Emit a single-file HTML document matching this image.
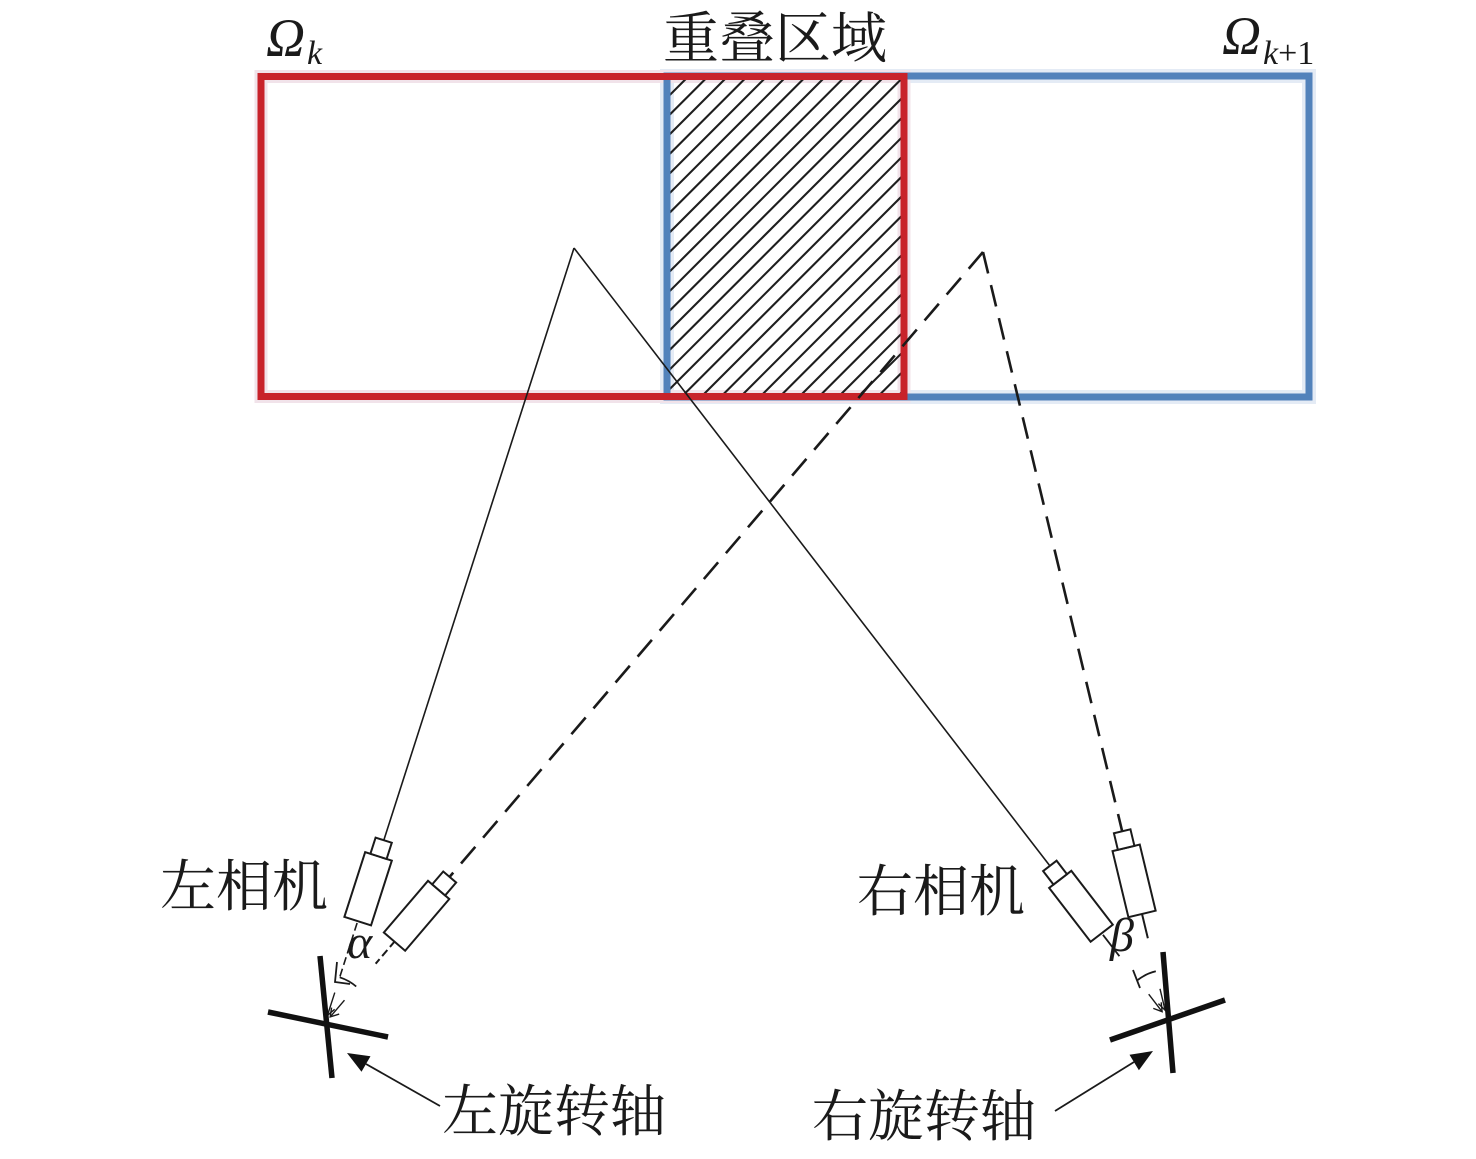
<!DOCTYPE html>
<html>
<head>
<meta charset="utf-8">
<style>
  html, body { margin: 0; padding: 0; background: #ffffff; }
  svg { display: block; }
  .cjk { font-family: "Liberation Serif", "Noto Serif CJK SC", serif; font-size: 56px; fill: #1a1a1a; }
  .greek { font-family: "Liberation Serif", serif; font-style: italic; fill: #1a1a1a; }
</style>
</head>
<body>
<svg width="1476" height="1159" viewBox="0 0 1476 1159" xmlns="http://www.w3.org/2000/svg">
  <rect x="0" y="0" width="1476" height="1159" fill="#ffffff"/>

  <defs>
    <clipPath id="hatchClip">
      <rect x="670.5" y="79.5" width="230.5" height="314"/>
    </clipPath>
  </defs>

  <!-- soft glow under frames -->
  <rect x="667" y="76" width="642" height="321" fill="none" stroke="#e4ebf5" stroke-width="14"/>
  <rect x="261" y="76.5" width="643" height="320" fill="none" stroke="#f1e3ea" stroke-width="13"/>

  <!-- blue rectangle (Omega k+1) -->
  <rect x="667" y="76" width="642" height="321" fill="none" stroke="#5282bb" stroke-width="7"/>

  <!-- hatch in overlap -->
  <g clip-path="url(#hatchClip)">
    <path fill="none" stroke="#1e1e1e" stroke-width="2.1" d="
      M345.2 400 L675.2 70 M364.8 400 L694.8 70 M384.4 400 L714.4 70 M404 400 L734 70
      M423.6 400 L753.6 70 M443.2 400 L773.2 70 M462.8 400 L792.8 70 M482.4 400 L812.4 70
      M502 400 L832 70 M521.6 400 L851.6 70 M541.2 400 L871.2 70 M560.8 400 L890.8 70
      M580.4 400 L910.4 70 M600 400 L930 70 M619.6 400 L949.6 70 M639.2 400 L969.2 70
      M658.8 400 L988.8 70 M678.4 400 L1008.4 70 M698 400 L1028 70 M717.6 400 L1047.6 70
      M737.2 400 L1067.2 70 M756.8 400 L1086.8 70 M776.4 400 L1106.4 70 M796 400 L1126 70
      M815.6 400 L1145.6 70 M835.2 400 L1165.2 70 M854.8 400 L1184.8 70 M874.4 400 L1204.4 70
      M894 400 L1224 70"/>
  </g>

  <!-- red rectangle (Omega k) -->
  <rect x="261" y="76.5" width="643" height="320" fill="none" stroke="#c8232b" stroke-width="7"/>

  <!-- solid lines from left apex -->
  <line x1="574" y1="248" x2="383.8" y2="840.2" stroke="#1a1a1a" stroke-width="1.6"/>
  <line x1="574" y1="248" x2="1049.9" y2="865.9" stroke="#1a1a1a" stroke-width="1.6"/>

  <!-- dashed lines from right apex -->
  <line x1="983" y1="252" x2="449.6" y2="876.9" stroke="#1a1a1a" stroke-width="2.6" stroke-dasharray="22 12"/>
  <line x1="983" y1="252" x2="1122.2" y2="831.4" stroke="#1a1a1a" stroke-width="2.6" stroke-dasharray="22 12"/>

  <!-- Left cameras, rotating about left axis (325,1023) -->
  <g transform="translate(325,1023) rotate(17.8)" stroke="#1a1a1a" stroke-width="2" fill="#ffffff">
    <line x1="0" y1="-105" x2="0" y2="-45" stroke-width="1.6" stroke-dasharray="8 4"/>
    <line x1="0" y1="-32" x2="0" y2="-8" stroke-width="1.4"/>
    <path d="M-5 -16 L0 -8 L5 -16" fill="none" stroke-width="1.4"/>
    <rect x="-14" y="-175" width="28" height="68"/>
    <rect x="-8.5" y="-192" width="17" height="17"/>
  </g>
  <g transform="translate(325,1023) rotate(40.5)" stroke="#1a1a1a" stroke-width="2" fill="#ffffff">
    <line x1="0" y1="-108" x2="0" y2="-78" stroke-width="2" stroke-dasharray="8 4"/>
    <line x1="0" y1="-30" x2="0" y2="-8" stroke-width="1.4"/>
    <path d="M-5 -16 L0 -8 L5 -16" fill="none" stroke-width="1.4"/>
    <rect x="-14" y="-175" width="28" height="68"/>
    <rect x="-8.5" y="-192" width="17" height="17"/>
  </g>
  <!-- alpha arc -->
  <path d="M339.7 977.3 A48 48 0 0 1 356.2 986.5" fill="none" stroke="#1a1a1a" stroke-width="1.8"/>
  <path d="M337 962 L335 982 L350 984" fill="none" stroke="#1a1a1a" stroke-width="1.8"/>

  <!-- Right cameras, rotating about right axis (1167,1018) -->
  <g transform="translate(1167,1018) rotate(-37.6)" stroke="#1a1a1a" stroke-width="2" fill="#ffffff">
    <line x1="0" y1="-105" x2="0" y2="-78" stroke-width="1.8"/>
    <line x1="0" y1="-30" x2="0" y2="-8" stroke-width="1.4"/>
    <path d="M-5 -16 L0 -8 L5 -16" fill="none" stroke-width="1.4"/>
    <rect x="-14" y="-175" width="28" height="68"/>
    <rect x="-8.5" y="-192" width="17" height="17"/>
  </g>
  <g transform="translate(1167,1018) rotate(-13.5)" stroke="#1a1a1a" stroke-width="2" fill="#ffffff">
    <line x1="0" y1="-107" x2="0" y2="-82" stroke-width="2"/>
    <line x1="0" y1="-30" x2="0" y2="-8" stroke-width="1.4"/>
    <path d="M-5 -16 L0 -8 L5 -16" fill="none" stroke-width="1.4"/>
    <rect x="-14" y="-175" width="28" height="68"/>
    <rect x="-8.5" y="-192" width="17" height="17"/>
  </g>
  <!-- beta arc -->
  <path d="M1137.7 980 A48 48 0 0 1 1155.8 971.3" fill="none" stroke="#1a1a1a" stroke-width="1.8"/>
  <path d="M1133 970 L1140 988" fill="none" stroke="#1a1a1a" stroke-width="1.8"/>

  <!-- Rotation axes (crosses) -->
  <line x1="320" y1="956" x2="332" y2="1078" stroke="#111" stroke-width="5.5"/>
  <line x1="268" y1="1012" x2="388" y2="1037" stroke="#111" stroke-width="5.5"/>
  <line x1="1163" y1="952" x2="1173" y2="1073" stroke="#111" stroke-width="5.5"/>
  <line x1="1110" y1="1040" x2="1225" y2="1000" stroke="#111" stroke-width="5.5"/>

  <!-- pointer arrows -->
  <line x1="440" y1="1106" x2="366" y2="1064" stroke="#1a1a1a" stroke-width="1.8"/>
  <polygon points="347,1053 361.5,1071.8 370.5,1056.2" fill="#111"/>
  <line x1="1055" y1="1111" x2="1134" y2="1062" stroke="#1a1a1a" stroke-width="1.8"/>
  <polygon points="1153,1051 1138.9,1070.2 1129.5,1054.8" fill="#111"/>

  <!-- Greek labels -->
  <text class="greek" x="266" y="56" font-size="54">Ω</text>
  <text class="greek" x="307" y="64" font-size="34">k</text>
  <text class="greek" x="1222" y="54" font-size="54">Ω</text>
  <text x="1263" y="64" font-size="34" style="font-family:'Liberation Serif',serif;fill:#1a1a1a;"><tspan font-style="italic">k</tspan>+1</text>

  <text class="greek" x="347" y="958" font-size="48">α</text>
  <text class="greek" x="1110" y="951" font-size="48">β</text>

  <!-- Chinese labels -->
  <text class="cjk" x="663" y="58">重叠区域</text>
  <text class="cjk" x="160" y="906">左相机</text>
  <text class="cjk" x="857" y="911">右相机</text>
  <text class="cjk" x="442" y="1131">左旋转轴</text>
  <text class="cjk" x="812" y="1136">右旋转轴</text>
</svg>
</body>
</html>
